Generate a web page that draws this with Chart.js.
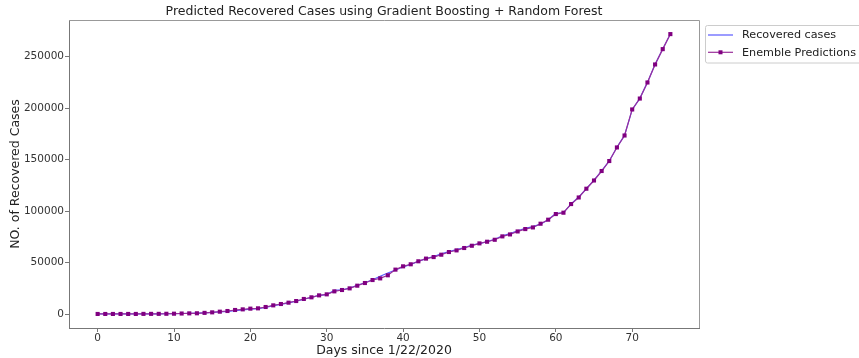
<!DOCTYPE html>
<html>
<head>
<meta charset="utf-8">
<script src="https://cdn.jsdelivr.net/npm/chart.js@4.4.1/dist/chart.umd.min.js"></script>
<style>
  html, body { margin: 0; padding: 0; background: #fff; }
  #wrap { width: 859px; height: 358px; position: relative; }
</style>
</head>
<body>
<div id="wrap"><canvas id="chart" width="859" height="358"></canvas></div>
<script>
// days since 1/22/2020
const days = [];
for (let d = 0; d <= 75; d++) days.push(d);

// recovered cases
const recovered = [28, 30, 36, 39, 52, 61, 107, 126, 143, 222, 284, 472, 623, 852, 1124,
  1487, 2011, 2616, 3244, 3946, 4683, 5150, 6295, 8058, 9395, 10865, 12583, 14352, 16121,
  18177, 18890, 22886, 23394, 25227, 27905, 30384, 33277, 36711, 39782, 42716, 45602,
  48228, 51170, 53796, 55865, 58358, 60694, 62494, 64404, 67003, 68324, 70251, 72624,
  76034, 78088, 80840, 83207, 84854, 87256, 91499, 97704, 98334, 106900, 113600, 121700,
  130000, 139000, 148700, 162000, 173500, 198500, 209500, 225000, 242500, 257500, 272000];

// ensemble predictions
const predictions = [30, 30, 40, 40, 50, 60, 110, 130, 140, 220, 290, 470, 620, 700, 1100,
  1600, 2250, 2900, 3900, 4500, 5200, 5500, 6800, 8400, 9700, 11000, 12600, 14600, 16200,
  18100, 19100, 22000, 23300, 24900, 27500, 30100, 33000, 34600, 37600, 43100, 46300,
  48300, 51200, 53800, 55300, 57600, 60200, 61800, 64100, 66300, 68600, 70200, 72100,
  75400, 77300, 80200, 82500, 84100, 87700, 91600, 97100, 98400, 106800, 113200, 121700,
  129700, 138900, 148600, 161800, 173400, 198700, 209300, 224900, 242400, 257300, 271900];

const xTicks = [0, 10, 20, 30, 40, 50, 60, 70];
const yTicks = [0, 50000, 100000, 150000, 200000, 250000];

const titleText = 'Predicted Recovered Cases using Gradient Boosting + Random Forest';
const FONT = "'DejaVu Sans', sans-serif";

// frame, title and legend drawn like matplotlib
const extras = {
  id: 'extras',
  afterDraw(chart) {
    const { ctx, chartArea: a } = chart;
    ctx.save();
    // spines
    ctx.lineWidth = 1;
    ctx.strokeStyle = '#999';
    ctx.beginPath();
    ctx.moveTo(a.left, a.top + 0.5);
    ctx.lineTo(a.right + 0.5, a.top + 0.5);
    ctx.lineTo(a.right + 0.5, a.bottom);
    ctx.stroke();

    // title
    ctx.fillStyle = '#222';
    ctx.font = '12.5px ' + FONT;
    ctx.textAlign = 'center';
    ctx.textBaseline = 'middle';
    ctx.fillText(titleText, (a.left + a.right) / 2, 12);

    // legend
    const lx = 705.5, ly = 25.5;
    ctx.strokeStyle = '#ccc';
    ctx.fillStyle = '#fff';
    ctx.beginPath();
    ctx.roundRect(lx, ly, 170, 37.5, 2);
    ctx.fill();
    ctx.stroke();
    ctx.font = '11.2px ' + FONT;
    ctx.textAlign = 'left';
    chart.data.datasets.forEach((ds, i) => {
      const y = 35 + i * 17.3;
      ctx.strokeStyle = ds.borderColor;
      ctx.lineWidth = ds.borderWidth;
      ctx.beginPath();
      ctx.moveTo(708, y);
      ctx.lineTo(733, y);
      ctx.stroke();
      if (ds.pointRadius > 0) {
        ctx.fillStyle = ds.pointBackgroundColor;
        ctx.fillRect(720.5 - 2, y - 2, 4, 4);
      }
      ctx.fillStyle = '#222';
      ctx.fillText(ds.label, 742, y + 0.5);
    });
    ctx.restore();
  }
};

new Chart(document.getElementById('chart'), {
  type: 'line',
  data: {
    datasets: [{
      label: 'Recovered cases',
      data: days.map((d, i) => ({ x: d, y: recovered[i] })),
      borderColor: 'rgba(60, 60, 255, 0.85)',
      borderWidth: 1.2,
      pointRadius: 0,
      tension: 0,
      order: 2
    }, {
      label: 'Enemble Predictions',
      data: days.map((d, i) => ({ x: d, y: predictions[i] })),
      borderColor: '#9a2f9a',
      borderWidth: 1.2,
      pointStyle: 'rect',
      pointRadius: 2.9,
      pointBackgroundColor: '#800080',
      pointBorderColor: '#800080',
      pointBorderWidth: 0,
      tension: 0,
      order: 1
    }]
  },
  options: {
    responsive: false,
    animation: false,
    layout: { padding: { left: 0, right: 160, top: 20, bottom: 0 } },
    plugins: {
      legend: { display: false },
      tooltip: { enabled: false }
    },
    scales: {
      x: {
        type: 'linear',
        min: -3.75,
        max: 78.75,
        afterBuildTicks: s => { s.ticks = xTicks.map(v => ({ value: v })); },
        afterFit: s => { s.height = 30; },
        grid: { drawOnChartArea: false, drawTicks: true, tickLength: 4, color: '#777' },
        border: { color: '#777', width: 1 },
        ticks: { color: '#333', font: { family: FONT, size: 10.5 }, padding: 0, maxRotation: 0 },
        title: {
          display: true, text: 'Days since 1/22/2020', color: '#222',
          font: { family: FONT, size: 12.5 }, padding: { top: 0, bottom: 0 }
        }
      },
      y: {
        type: 'linear',
        min: -13600,
        max: 285600,
        afterBuildTicks: s => { s.ticks = yTicks.map(v => ({ value: v })); },
        afterFit: s => { s.width = 69; },
        grid: { drawOnChartArea: false, drawTicks: true, tickLength: 4, color: '#777' },
        border: { color: '#777', width: 1 },
        ticks: {
          color: '#333', font: { family: FONT, size: 10.5 }, padding: 1,
          callback: v => String(v)
        },
        title: {
          display: true, text: 'NO. of Recovered Cases', color: '#222',
          font: { family: FONT, size: 12.5 }, padding: { top: 8, bottom: 0 }
        }
      }
    }
  },
  plugins: [extras]
});
</script>
</body>
</html>
